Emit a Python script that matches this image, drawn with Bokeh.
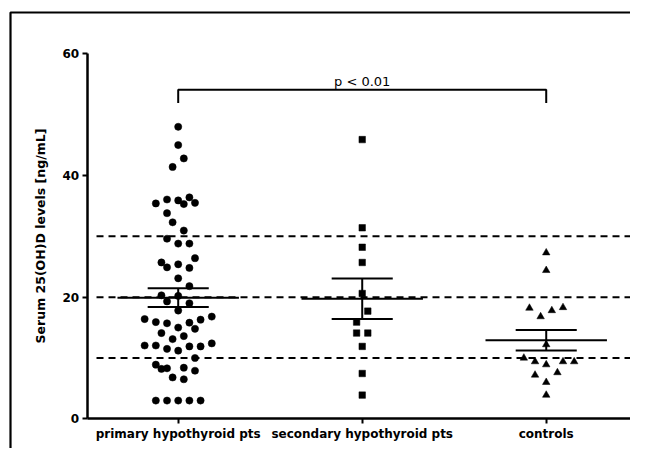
import numpy as np
from bokeh.plotting import figure
from bokeh.models import Range1d, FixedTicker, ColumnDataSource, BoxAnnotation
from bokeh.core.properties import value
from bokeh.embed import file_html
from bokeh.resources import INLINE

# ---------------- data ----------------
categories = ["primary hypothyroid pts", "secondary hypothyroid pts", "controls"]

primary_values = [48.0, 45.0, 42.8, 41.4,
                  35.4, 36.05, 35.9, 35.3, 36.4, 35.5,
                  33.8, 32.3, 30.95, 29.6, 28.8, 28.8,
                  25.7, 24.9, 25.4, 24.8, 26.4,
                  23.1, 21.8,
                  20.3, 19.3, 20.2, 19.0, 17.8,
                  16.4, 15.9, 15.7, 15.0, 15.8, 16.3, 16.8,
                  14.1, 13.1, 13.6, 14.8,
                  12.05, 12.05, 11.5, 11.2, 11.9, 11.9, 12.4,
                  10.0, 8.9, 8.2, 8.3, 8.4, 7.9, 6.8, 6.5,
                  3.0, 3.0, 3.0, 3.0, 3.0]
primary_dx = [0, 0, 1, -1,
              -4, -2, 0, 1, 2, 3,
              -2, -1, 1, -2, 0, 2,
              -3, -2, 0, 2, 3,
              0, 2,
              -3, -2, 0, 2, 0,
              -6, -4, -2, 0, 2, 4, 6,
              -3, -1, 1, 3,
              -6, -4, -2, 0, 2, 4, 6,
              3, -4, -3, -2, 1, 3, -1, 1,
              -4, -2, 0, 2, 4]

secondary_values = [45.9, 31.4, 28.2, 25.7, 20.6, 17.7, 15.9, 14.1, 14.1, 11.9, 7.45, 3.9]
secondary_dx = [0, 0, 0, 0, 0, 1, -1, -1, 1, 0, 0, 0]

control_values = [27.3, 24.4, 18.2, 16.8, 17.8, 18.3, 12.2,
                  10.0, 9.4, 8.9, 9.4, 9.4, 7.2, 7.6, 6.0, 3.9]
control_dx = [0, 0, -3, -1, 1, 3, 0, -4, -2, 0, 3, 5, -2, 2, 0, 0]

thresholds = [10, 20, 30]
y_ticks = [0, 20, 40, 60]
y_axis_span = (0, 60)
p_label = "p < 0.01"
compare_pair = (0, 2)
bracket_level = 54.1
bracket_drop = 2.2

# ---------------- styling / layout constants ----------------
INK = "#000000"
STEP = 0.0304          # horizontal swarm step in x units
MEAN_HALF = 0.33
CAP_HALF = 0.166
BOLD_FONT = "DejaVu Sans"
X_AXIS_START = -0.495
X_END = 2.458
W, H = 630, 448

p = figure(width=W, height=H,
           x_range=Range1d(-0.9223, X_END), y_range=Range1d(-4.88, 67.12),
           output_backend="svg", toolbar_location=None,
           min_border_left=8, min_border_right=0,
           min_border_top=10, min_border_bottom=0)
p.outline_line_color = None
p.xgrid.visible = False
p.ygrid.visible = False
p.background_fill_color = "white"
p.border_fill_color = "white"

# outer picture frame (its right and bottom edges fall outside the canvas)
p.add_layout(BoxAnnotation(left=2, right=2000, top=H - 12, bottom=-2000,
                           left_units="screen", right_units="screen",
                           top_units="screen", bottom_units="screen",
                           fill_color=None, fill_alpha=0,
                           line_color=INK, line_alpha=1.0, line_width=2.2,
                           level="overlay"))

# threshold dashed lines
p.segment(x0=[-0.444] * len(thresholds), x1=[X_END] * len(thresholds),
          y0=thresholds, y1=thresholds,
          line_color=INK, line_width=2, line_dash="7 5")

groups = [(primary_values, primary_dx, "circle", 7.2),
          (secondary_values, secondary_dx, "square", 6.5),
          (control_values, control_dx, "triangle", 7.5)]

for i, (vals, dx, marker, size) in enumerate(groups):
    vals_a = np.array(vals, dtype=float)
    xs = i + np.array(dx, dtype=float) * STEP
    src = ColumnDataSource(dict(x=xs, y=vals_a))
    p.scatter("x", "y", source=src, marker=marker, size=size,
              fill_color=INK, line_color=INK, line_width=0.5)
    m = vals_a.mean()
    sem = vals_a.std(ddof=1) / np.sqrt(len(vals_a))
    # mean line
    p.segment(x0=[i - MEAN_HALF], x1=[i + MEAN_HALF], y0=[m], y1=[m],
              line_color=INK, line_width=2)
    # SEM bar
    p.segment(x0=[i], x1=[i], y0=[m - sem], y1=[m + sem],
              line_color=INK, line_width=2)
    p.segment(x0=[i - CAP_HALF, i - CAP_HALF], x1=[i + CAP_HALF, i + CAP_HALF],
              y0=[m - sem, m + sem], y1=[m - sem, m + sem],
              line_color=INK, line_width=2)

# significance bracket
a, b = compare_pair
p.line(x=[a, a, b, b],
       y=[bracket_level - bracket_drop, bracket_level, bracket_level, bracket_level - bracket_drop],
       line_color=INK, line_width=2)
p.text(x=[(a + b) / 2], y=[bracket_level + 1.4], text=[p_label],
       text_font=value("DejaVu Sans"), text_font_size="13px",
       text_align="center", text_baseline="alphabetic", text_color=INK)

# axes (drawn inside the frame at fixed data locations)
xa = p.xaxis[0]
ya = p.yaxis[0]
xa.fixed_location = y_axis_span[0]
xa.bounds = (X_AXIS_START, X_END)
ya.fixed_location = X_AXIS_START
ya.bounds = y_axis_span

for ax in (xa, ya):
    ax.axis_line_width = 2.5
    ax.axis_line_color = INK
    ax.major_tick_line_width = 2
    ax.major_tick_line_color = INK
    ax.major_tick_out = 5
    ax.major_tick_in = 0
    ax.minor_tick_line_color = None
    ax.major_label_text_font = BOLD_FONT
    ax.major_label_text_font_style = "bold"
    ax.major_label_text_font_size = "12px"
    ax.major_label_text_color = INK

xa.ticker = FixedTicker(ticks=list(range(len(categories))))
xa.major_label_overrides = {i: c for i, c in enumerate(categories)}
xa.major_label_standoff = 3

ya.ticker = FixedTicker(ticks=y_ticks)
ya.major_label_standoff = 3
ya.axis_label = "Serum 25(OH)D levels [ng/mL]"
ya.axis_label_text_font = BOLD_FONT
ya.axis_label_text_font_style = "bold"
ya.axis_label_text_font_size = "12.5px"
ya.axis_label_standoff = 12
ya.axis_label_text_color = INK

open("out.html", "w").write(file_html(p, INLINE))
